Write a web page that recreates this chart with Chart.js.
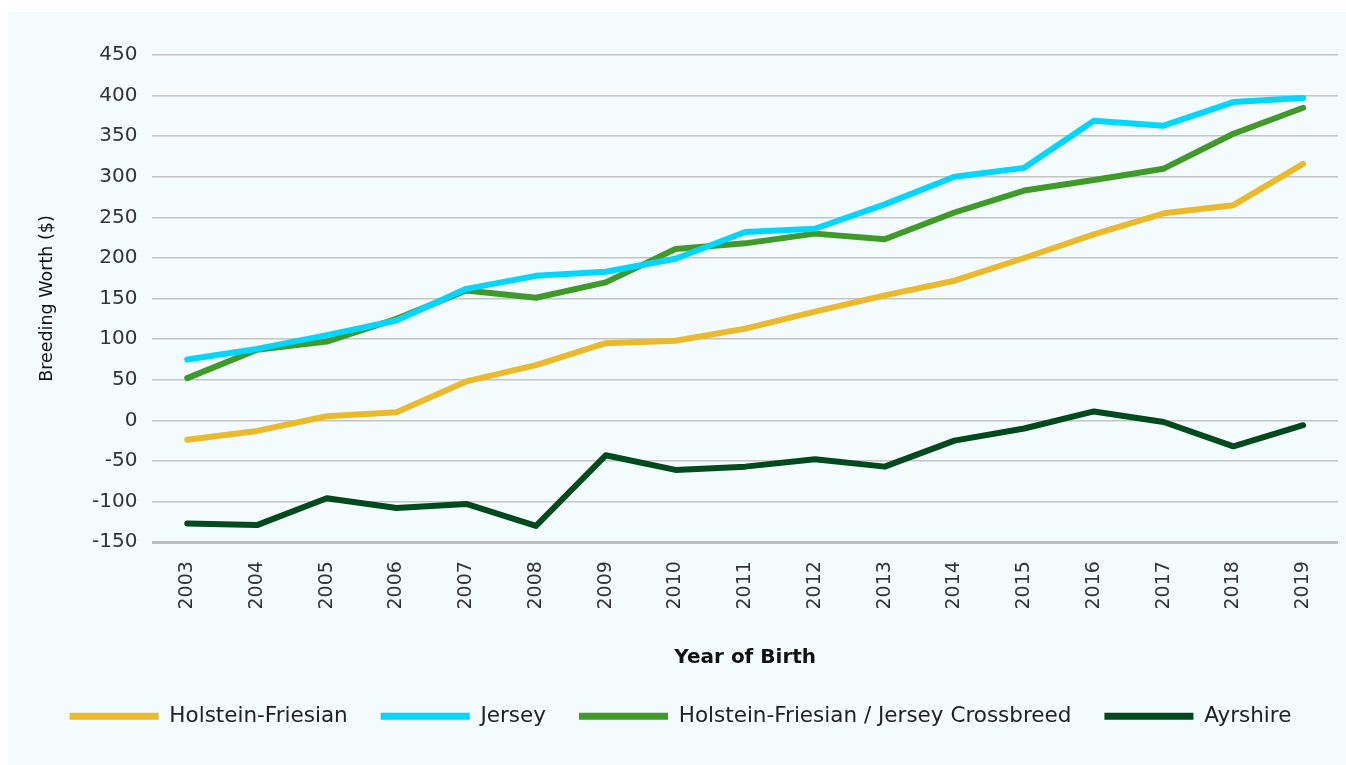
<!DOCTYPE html>
<html>
<head>
<meta charset="utf-8">
<script src="https://cdn.jsdelivr.net/npm/chart.js@4.4.1/dist/chart.umd.min.js"></script>
<style>
  html, body { margin: 0; padding: 0; background: #ffffff; }
  #wrap { position: absolute; left: 8px; top: 12px; width: 1338px; height: 753px; background: #f3fbfd; }
</style>
</head>
<body>
<div id="wrap"><canvas id="chart"></canvas></div>
<script>
// Años de nacimiento (eje X)
const years = ['2003', '2004', '2005', '2006', '2007', '2008', '2009', '2010', '2011',
               '2012', '2013', '2014', '2015', '2016', '2017', '2018', '2019'];

// Valores ($)
const holsteinFriesian = [-24, -13, 5, 10, 48, 68, 95, 98, 113, 134, 154, 172, 200, 229, 255, 265, 316];
const jersey = [75, 88, 105, 123, 162, 178, 183, 199, 232, 236, 266, 300, 311, 369, 363, 392, 397];
const crossbreed = [52, 87, 97, 125, 160, 151, 170, 211, 218, 230, 223, 256, 283, 296, 310, 353, 385];
const ayrshire = [-127, -129, -96, -108, -103, -130, -43, -61, -57, -48, -57, -25, -10, 11, -2, -32, -6];

const FONT = '"DejaVu Sans", sans-serif';

function serie(label, data, color) {
    return {
        label: label,
        data: data,
        borderColor: color,
        backgroundColor: color,
        borderWidth: 6,
        borderCapStyle: 'round',
        borderJoinStyle: 'round',
        tension: 0,
        pointRadius: 0,
        pointHoverRadius: 0,
        fill: false
    };
}

const ctx = document.getElementById('chart').getContext('2d');
new Chart(ctx, {
    type: 'line',
    data: {
        labels: years,
        datasets: [
            serie('Holstein-Friesian', holsteinFriesian, '#ebb92c'),
            serie('Jersey', jersey, '#00d6ff'),
            serie('Holstein-Friesian / Jersey Crossbreed', crossbreed, '#3f9a2a'),
            serie('Ayrshire', ayrshire, '#004a1e')
        ]
    },
    options: {
        responsive: true,
        maintainAspectRatio: false,
        animation: false,
        layout: { padding: { top: 43, right: 8, left: 15, bottom: 28 } },
        plugins: {
            tooltip: { enabled: false },
            legend: {
                display: true,
                position: 'bottom',
                labels: {
                    color: '#222222',
                    font: { family: FONT, size: 21.5 },
                    boxWidth: 89,
                    boxHeight: 7,
                    padding: 33,
                    generateLabels: function(chart) {
                        const items = Chart.defaults.plugins.legend.labels.generateLabels(chart);
                        items.forEach(it => { it.lineWidth = 0; it.fillStyle = it.strokeStyle; });
                        return items;
                    }
                }
            }
        },
        scales: {
            x: {
                offset: true,
                grid: { display: false, drawTicks: false },
                border: { display: false },
                ticks: {
                    color: '#333333',
                    font: { family: FONT, size: 19 },
                    maxRotation: 90,
                    minRotation: 90,
                    padding: 19
                },
                title: {
                    display: true,
                    text: 'Year of Birth',
                    color: '#111111',
                    font: { family: FONT, size: 20, weight: 'bold' },
                    padding: { top: 17, bottom: 3 }
                }
            },
            y: {
                min: -150,
                max: 450,
                grid: {
                    color: function(c) { return c.tick.value === -150 ? '#bdbdbd' : '#c4c4c4'; },
                    lineWidth: function(c) { return c.tick.value === -150 ? 3 : 1.5; },
                    drawTicks: false
                },
                border: { display: false },
                ticks: {
                    stepSize: 50,
                    color: '#333333',
                    font: { family: FONT, size: 20 },
                    padding: 15
                },
                title: {
                    display: true,
                    text: 'Breeding Worth ($)',
                    color: '#111111',
                    font: { family: FONT, size: 17.5 },
                    padding: { top: 14, bottom: 19 }
                }
            }
        }
    }
});
</script>
</body>
</html>
